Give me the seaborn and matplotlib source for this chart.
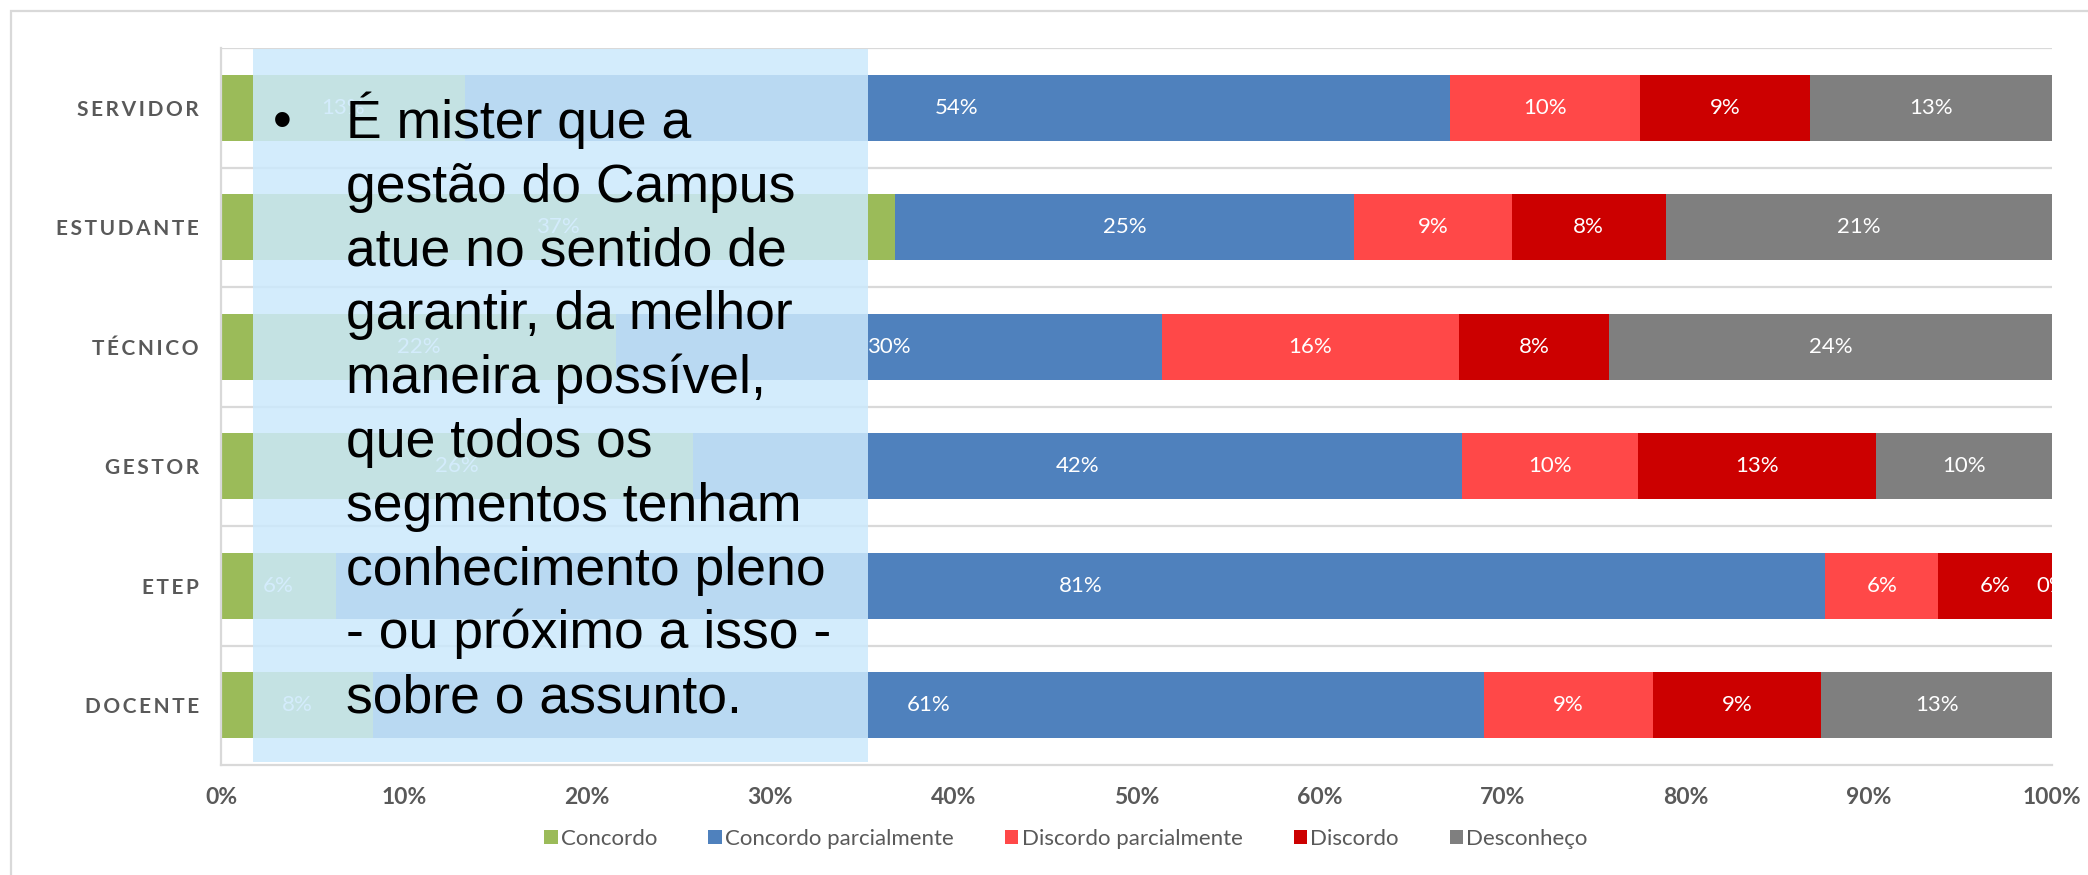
import numpy as np
import matplotlib
matplotlib.use("Agg")
import matplotlib.pyplot as plt
from matplotlib.patches import Rectangle, Patch
import seaborn as sns

# Data (percent of answers per segment)
categories = ['SERVIDOR', 'ESTUDANTE', 'TÉCNICO', 'GESTOR', 'ETEP', 'DOCENTE']
series_names = ['Concordo', 'Concordo parcialmente', 'Discordo parcialmente',
                'Discordo', 'Desconheço']
concordo = [13.3, 36.8, 21.6, 25.8, 6.3, 8.3]
concordo_parcial = [53.8, 25.1, 29.8, 42.0, 81.3, 60.7]
discordo_parcial = [10.4, 8.6, 16.2, 9.6, 6.2, 9.2]
discordo = [9.3, 8.4, 8.2, 13.0, 6.2, 9.2]
desconheco = [13.2, 21.1, 24.2, 9.6, 0.0, 12.6]
colors = ['#9BBB59', '#4F81BD', '#FF4848', '#CC0000', '#7F7F7F']

box_lines = ['É mister que a', 'gestão do Campus', 'atue no sentido de',
             'garantir, da melhor', 'maneira possível,', 'que todos os',
             'segmentos tenham', 'conhecimento pleno', '- ou próximo a isso -',
             'sobre o assunto.']

sns.set_theme(style='white')
plt.rcParams['font.family'] = ['Lato', 'DejaVu Sans']

W, H = 2088, 875
fig = plt.figure(figsize=(W / 100, H / 100), dpi=100)
ax = fig.add_axes([221 / W, 1 - 765 / H, (2052 - 221) / W, (765 - 48) / H])

series = [concordo, concordo_parcial, discordo_parcial, discordo, desconheco]
vals = np.array(series)
cum = np.cumsum(vals, axis=0)

# stacked bars: draw cumulative totals from the largest down
for i in range(len(series) - 1, -1, -1):
    sns.barplot(x=cum[i], y=categories, color=colors[i], orient='h',
                width=0.55, saturation=1, linewidth=0, errorbar=None, ax=ax)

# data labels, centered in each segment
for i in range(len(series)):
    starts = cum[i] - vals[i]
    for j, v in enumerate(vals[i]):
        ax.text(starts[j] + v / 2, j, f'{v:.0f}%', color='white', fontsize=16,
                ha='center', va='center', clip_on=True, zorder=5)

ax.set_xlim(0, 100)
ax.set_ylim(len(categories) - 0.5, -0.5)
ax.set_xlabel('')
ax.set_ylabel('')
ax.set_xticks(np.arange(0, 101, 10))
ax.set_xticklabels([f'{t}%' for t in range(0, 101, 10)], fontweight='bold',
                   fontsize=16.5, color='#595959')
ax.set_yticks(range(len(categories)))
ax.set_yticklabels(['\u2009'.join(c) for c in categories], fontweight='bold',
                   fontsize=15, color='#595959')
ax.set_yticks(np.arange(-0.5, len(categories) - 1, 1), minor=True)
ax.tick_params(axis='y', which='both', length=0, pad=16)
ax.tick_params(axis='x', length=6, width=1.5, color='#D9D9D9', pad=10, direction='out')
ax.grid(axis='y', which='minor', color='#D9D9D9', linewidth=1.6)
ax.grid(axis='x', visible=False)
ax.set_axisbelow(True)
for s in ['top', 'right']:
    ax.spines[s].set_visible(False)
for s in ['left', 'bottom']:
    ax.spines[s].set_color('#D9D9D9')
    ax.spines[s].set_linewidth(1.6)

# chart area border
fig.patches.append(Rectangle((11 / W, -0.1), 1.2, 1 - 11 / H + 0.1,
                             transform=fig.transFigure, fill=False,
                             edgecolor='#D9D9D9', linewidth=1.6, zorder=0))

# legend
handles = [Patch(facecolor=c, edgecolor='none', label=n) for c, n in zip(colors, series_names)]
leg = fig.legend(handles=handles, loc='center', bbox_to_anchor=(1066 / W, 1 - 839 / H),
                 ncol=5, frameon=False, fontsize=16, handlelength=0.6, handleheight=0.6,
                 handletextpad=0.15, columnspacing=2.3)
for t in leg.get_texts():
    t.set_color('#595959')

# translucent text box overlay
fig.patches.append(Rectangle((253 / W, 1 - 762 / H), (868 - 253) / W, (762 - 49) / H,
                             transform=fig.transFigure, facecolor='#CCE9FC',
                             edgecolor='none', alpha=0.85, zorder=2))
fig.text(282 / W, 1 - 138 / H, '•', fontsize=38.5, family='Liberation Sans',
         ha='center', va='baseline', color='black', zorder=3)
for k, line in enumerate(box_lines):
    fig.text(346 / W, 1 - (138 + 63.8 * k) / H, line, fontsize=38.5,
             family='Liberation Sans', ha='left', va='baseline', color='black', zorder=3)

fig.savefig('out.png', dpi=100)
